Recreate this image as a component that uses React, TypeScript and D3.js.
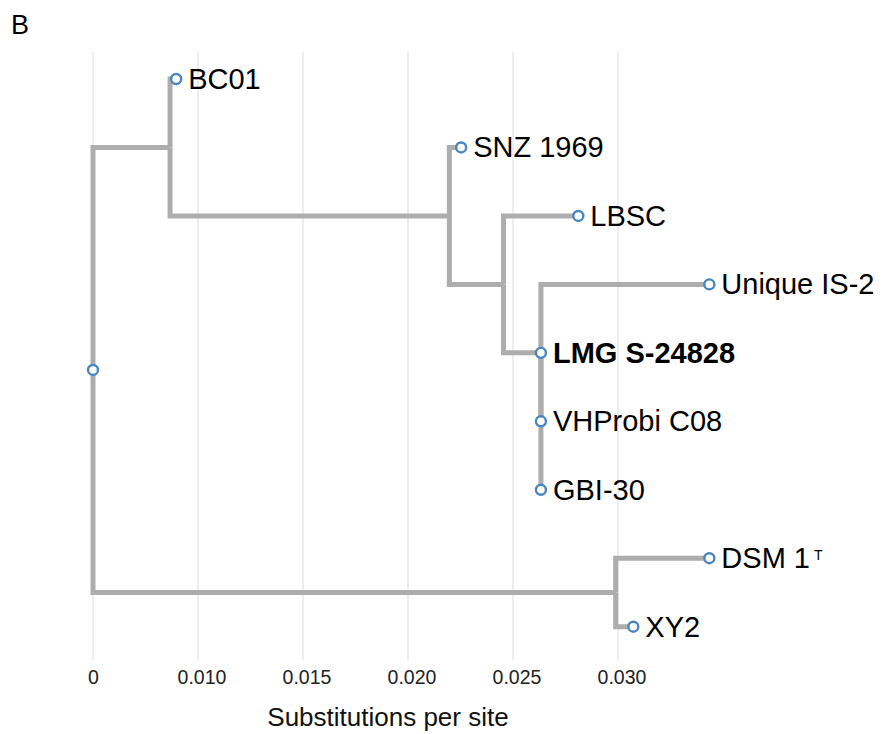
import React from "react";
import * as d3 from "d3";

// Tree topology (child order = drawing order) and branch lengths (substitutions per site)
const nodeIds = ["root", "A", "BC01", "B", "SNZ 1969", "C", "LBSC", "D", "Unique IS-2", "X", "LMG S-24828", "VHProbi C08", "GBI-30", "E", "DSM 1", "XY2"];
const nodeParents = ["", "root", "A", "A", "B", "B", "C", "C", "D", "D", "X", "X", "X", "root", "E", "E"];
const branchLengths = [0, 0.00367, 0.00029, 0.0133, 0.00056, 0.00258, 0.00356, 0.00178, 0.00802, 0, 0, 0, 0, 0.02489, 0.00446, 0.00084];
const boldLabels = ["LMG S-24828"];
const superscripts: Record<string, string> = { "DSM 1": "T" };

const tickValues = [0, 0.005, 0.01, 0.015, 0.02, 0.025];
const tickLabels = ["0", "0.010", "0.015", "0.020", "0.025", "0.030"];

const W = 882;
const H = 734;
const FONT = "Arial, 'Liberation Sans', Helvetica, sans-serif";

export default function App() {
  const rows = nodeIds.map((id, i) => ({ id, parent: nodeParents[i] || null, bl: branchLengths[i] }));
  const root = d3
    .stratify<{ id: string; parent: string | null; bl: number }>()
    .id((d) => d.id)
    .parentId((d) => d.parent)(rows);

  // cumulative distance
  const dist = new Map<any, number>();
  root.eachBefore((n) => {
    dist.set(n, n.parent ? (dist.get(n.parent) as number) + n.data.bl : 0);
  });

  const leaves = root.leaves();
  const x = d3.scaleLinear().domain([0, 0.025]).range([93, 618]);
  const y = d3.scaleLinear().domain([0, leaves.length - 1]).range([79, 626.7]);

  const ypos = new Map<any, number>();
  leaves.forEach((l, i) => ypos.set(l, y(i)));
  root.eachAfter((n) => {
    if (n.children) {
      const c = n.children;
      ypos.set(n, ((ypos.get(c[0]) as number) + (ypos.get(c[c.length - 1]) as number)) / 2);
    }
  });

  const links = root.descendants().filter((n) => n.parent);
  const gridTop = 52;
  const gridBottom = 660;

  return (
    <svg width={W} height={H} style={{ position: "absolute", left: 0, top: 0, background: "#fff" }} fontFamily={FONT}>
      <rect width={W} height={H} fill="#fff" />
      <text x={11} y={34} fontSize={27} fill="#000">B</text>
      {tickValues.map((t, i) => (
        <g key={i}>
          <line x1={x(t)} x2={x(t)} y1={gridTop} y2={gridBottom} stroke="#e3e3e3" strokeWidth={1.2} />
          <text x={x(t) + (i === 0 ? 0.5 : 4)} y={684} fontSize={19.5} textAnchor="middle" fill="#222">
            {tickLabels[i]}
          </text>
        </g>
      ))}
      <text x={388} y={726} fontSize={26} textAnchor="middle" fill="#111">Substitutions per site</text>
      <g fill="none" stroke="#adadad" strokeWidth={5} strokeLinejoin="miter" strokeLinecap="butt">
        {links.map((n, i) => {
          const p = n.parent as any;
          const d = `M${x(dist.get(p) as number)},${ypos.get(p)}V${ypos.get(n)}H${x(dist.get(n) as number)}`;
          return <path key={i} d={d} />;
        })}
      </g>
      {[root, ...leaves].map((n, i) => (
        <circle key={i} cx={x(dist.get(n) as number)} cy={ypos.get(n)} r={5} fill="#fff" stroke="#4a86bf" strokeWidth={2.4} />
      ))}
      {leaves.map((n, i) => {
        const id = n.data.id;
        return (
          <text
            key={i}
            x={x(dist.get(n) as number) + 12}
            y={(ypos.get(n) as number) + 10}
            fontSize={29}
            fontWeight={boldLabels.includes(id) ? "bold" : "normal"}
            fill="#000"
          >
            {id}
            {superscripts[id] ? (
              <tspan dx={4} dy={-8} fontSize={14}>{superscripts[id]}</tspan>
            ) : null}
          </text>
        );
      })}
    </svg>
  );
}
